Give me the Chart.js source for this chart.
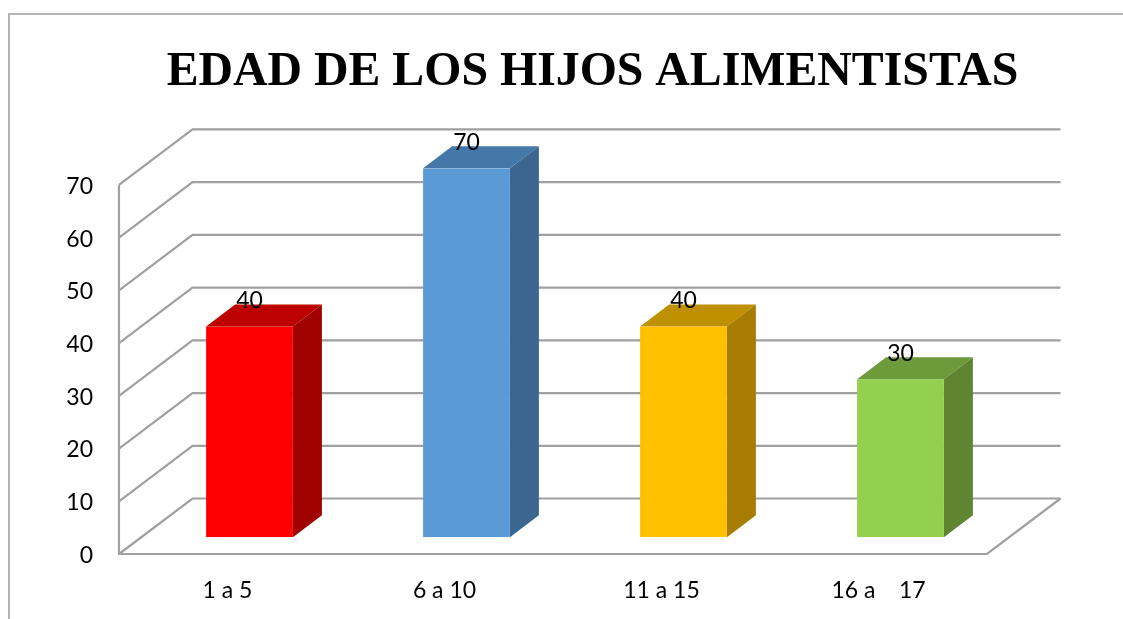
<!DOCTYPE html>
<html><head><meta charset="utf-8">
<style>html,body{margin:0;padding:0;background:#fff}#w{width:1123px;height:619px;position:relative}</style>
<script src="https://cdn.jsdelivr.net/npm/chart.js@4"></script>
</head><body><div id="w"><canvas id="c"></canvas></div>
<script>
const chartTitle = "EDAD DE LOS HIJOS ALIMENTISTAS";
const categories = ["1 a 5", "6 a 10", "11 a 15", "16 a    17"];
const values = [40, 70, 40, 30];
const frontColors = ["#FF0000", "#5B9BD5", "#FFC000", "#92D050"];
const topColors = ["#BD0000", "#4478A8", "#BF9000", "#6D9B3C"];
const sideColors = ["#A00000", "#3A6690", "#A67D00", "#5F8532"];
const GRID = "#A0A0A0";
const WALL_DX = 73.5, WALL_DY = -55.5;
const BAR_DX = 22, BAR_DY = -16.7, DEPTH_X = 29, DEPTH_Y = -22;
const LABEL_FONT = '23px Lato';

const scene = {
  id: 'scene',
  afterLayout(chart) {
    // the title sits to the right of the canvas centre in the reference
    chart.titleBlock.left = 62;
    chart.titleBlock.right = 1123;
  },
  beforeDatasetsDraw(chart) {
    const {ctx, scales: {x, y}, chartArea: a} = chart;
    ctx.save();
    ctx.strokeStyle = GRID;
    ctx.lineWidth = 1.6;
    // outer frame
    ctx.beginPath();
    ctx.moveTo(9, 619); ctx.lineTo(9, 14); ctx.lineTo(1123, 14);
    ctx.stroke();
    ctx.lineWidth = 2.2;
    // wall grid lines
    y.ticks.forEach((t, i) => {
      const py = y.getPixelForTick(i);
      ctx.beginPath();
      ctx.moveTo(a.left, py);
      ctx.lineTo(a.left + WALL_DX, py + WALL_DY);
      ctx.lineTo(a.right + WALL_DX, py + WALL_DY);
      ctx.stroke();
    });
    // axis and floor
    ctx.beginPath();
    ctx.moveTo(a.left, a.top);
    ctx.lineTo(a.left, a.bottom);
    ctx.lineTo(a.right, a.bottom);
    ctx.lineTo(a.right + WALL_DX, a.bottom + WALL_DY);
    ctx.stroke();
    ctx.restore();
    // bars are drawn in the mid-depth plane
    ctx.save();
    ctx.translate(BAR_DX, BAR_DY);
    chart.getDatasetMeta(0).data.forEach((b, i) => {
      const l = b.x - b.width / 2, r = b.x + b.width / 2;
      ctx.fillStyle = topColors[i];
      ctx.beginPath();
      ctx.moveTo(l, b.y); ctx.lineTo(l + DEPTH_X, b.y + DEPTH_Y);
      ctx.lineTo(r + DEPTH_X, b.y + DEPTH_Y); ctx.lineTo(r, b.y);
      ctx.closePath(); ctx.fill();
      ctx.fillStyle = sideColors[i];
      ctx.beginPath();
      ctx.moveTo(r, b.y); ctx.lineTo(r + DEPTH_X, b.y + DEPTH_Y);
      ctx.lineTo(r + DEPTH_X, b.base + DEPTH_Y); ctx.lineTo(r, b.base);
      ctx.closePath(); ctx.fill();
    });
  },
  afterDatasetsDraw(chart) {
    const {ctx} = chart;
    ctx.fillStyle = '#000';
    ctx.font = LABEL_FONT;
    ctx.textAlign = 'center';
    ctx.textBaseline = 'middle';
    chart.getDatasetMeta(0).data.forEach((b, i) => {
      ctx.fillText(String(values[i]), b.x, b.y - 25.5);
    });
    ctx.restore();
  }
};

new Chart(document.getElementById('c'), {
  type: 'bar',
  data: { labels: categories, datasets: [{ data: values, backgroundColor: frontColors, borderWidth: 0,
    barPercentage: 0.4, categoryPercentage: 1 }] },
  plugins: [scene],
  options: {
    responsive: true, maintainAspectRatio: false, animation: false,
    layout: { padding: { top: 31, right: 136, left: 0, bottom: 0 } },
    plugins: {
      legend: { display: false },
      tooltip: { enabled: false },
      title: { display: true, text: chartTitle, color: '#000',
        font: { family: 'Liberation Serif', size: 47.8, weight: 'bold', lineHeight: 1.2 },
        padding: { top: 13, bottom: 83.6 } }
    },
    scales: {
      x: { grid: { display: false, drawTicks: false }, border: { display: false },
        ticks: { color: '#000', font: { family: 'Lato', size: 23 }, padding: 22.5, maxRotation: 0, autoSkip: false },
        afterFit(s) { s.height = 65; } },
      y: { min: 0, max: 70, grid: { display: false, drawTicks: false }, border: { display: false },
        ticks: { stepSize: 10, color: '#000', font: { family: 'Lato', size: 23 }, padding: 26, labelOffset: 1.5 },
        afterFit(s) { s.width = 119; } }
    }
  }
});
</script></body></html>
